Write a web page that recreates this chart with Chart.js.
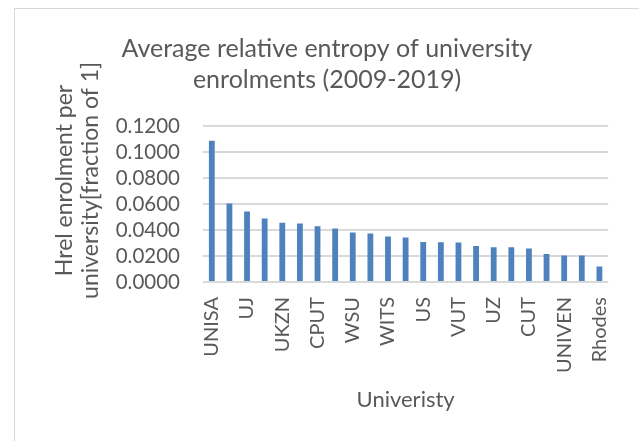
<!DOCTYPE html>
<html>
<head>
<meta charset="utf-8">
<script src="https://cdn.jsdelivr.net/npm/chart.js@4.4.1/dist/chart.umd.min.js"></script>
<style>
  html, body { margin: 0; padding: 0; background: #ffffff; }
  #wrap { position: relative; width: 639px; height: 441px; overflow: hidden; }
  #frame { position: absolute; left: 14px; top: 8px; width: 700px; height: 500px;
           border-left: 1px solid #d9d9d9; border-top: 1px solid #d9d9d9; pointer-events: none; }
  canvas { position: absolute; left: 0; top: 0; }
</style>
</head>
<body>
<div id="wrap">
  <canvas id="c" width="639" height="441"></canvas>
  <div id="frame"></div>
</div>
<script>
const categories = ['UNISA','TUT','UJ','NWU','UKZN','UP','CPUT','UFS','WSU','DUT','WITS','UCT',
                    'US','NMU','VUT','UWC','UZ','UL','CUT','MUT','UNIVEN','UFH','Rhodes'];
const hrelValues = [0.1087,0.0604,0.0543,0.0489,0.0455,0.0450,0.0429,0.0411,0.0381,0.0373,0.0350,0.0343,
                    0.0308,0.0306,0.0304,0.0277,0.0267,0.0267,0.0257,0.0216,0.0203,0.0203,0.0119];
const titleLines = ['Average relative entropy of university', 'enrolments (2009-2019)'];
const yTitleLines = ['\u00A0\u00A0\u00A0\u00A0\u00A0\u00A0\u00A0\u00A0Hrel enrolment per',
                     '\u00A0\u00A0\u00A0\u00A0\u00A0\u00A0\u00A0\u00A0university[fraction of 1]'];
const xTitle = 'Univeristy';
const yMin = 0, yMax = 0.12, yStep = 0.02;

const FONT = 'Lato';
const TXT = '#595959';
const GRID = '#d9d9d9';

new Chart(document.getElementById('c'), {
  type: 'bar',
  data: {
    labels: categories,
    datasets: [{
      data: hrelValues,
      backgroundColor: '#4f81bd',
      borderWidth: 0,
      barPercentage: 0.33,
      categoryPercentage: 1.0
    }]
  },
  options: {
    responsive: false,
    animation: false,
    events: [],
    layout: { padding: { left: 42, right: 27, top: 8, bottom: 0 } },
    plugins: {
      legend: { display: false },
      tooltip: { enabled: false },
      title: {
        display: true,
        text: titleLines,
        color: TXT,
        font: { family: FONT, size: 25, weight: 'normal', lineHeight: 1.24 },
        padding: { top: 25, bottom: 31 }
      }
    },
    scales: {
      x: {
        grid: { display: false, drawTicks: false },
        border: { display: false },
        ticks: {
          autoSkip: false,
          minRotation: 90,
          maxRotation: 90,
          padding: 15,
          color: TXT,
          font: { family: FONT, size: 20 },
          callback: function (value, index) { return index % 2 === 0 ? categories[index] : ''; }
        },
        title: {
          display: true,
          text: xTitle,
          color: TXT,
          font: { family: FONT, size: 22, lineHeight: 1.2 },
          padding: { top: 0, bottom: 28 }
        },
        afterFit: function (scale) { scale.height = 159; }
      },
      y: {
        min: yMin,
        max: yMax,
        grid: { color: GRID, lineWidth: 2, drawTicks: false },
        border: { display: false },
        ticks: {
          autoSkip: false,
          stepSize: yStep,
          padding: 23,
          color: TXT,
          font: { family: FONT, size: 20.5 },
          callback: function (value) { return Number(value).toFixed(4); }
        },
        title: {
          display: true,
          text: yTitleLines,
          color: TXT,
          font: { family: FONT, size: 23, lineHeight: 1.13 },
          padding: { top: 10, bottom: 0 }
        },
        afterFit: function (scale) { scale.width = 161; }
      }
    }
  }
});
</script>
</body>
</html>
